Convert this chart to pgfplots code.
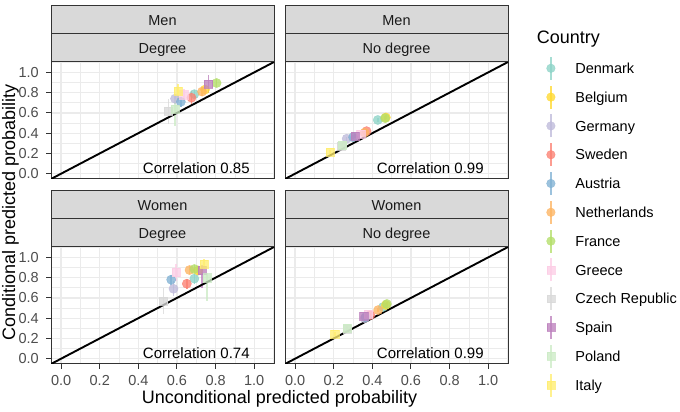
\documentclass[border=0pt]{standalone}
\usepackage{pgfplots}
\pgfplotsset{compat=1.18}
\usepackage{fontspec}
\setmainfont{Liberation Sans}
\definecolor{cDen}{HTML}{8DD3C7}
\definecolor{cBel}{HTML}{FFD92F}
\definecolor{cGer}{HTML}{BEBADA}
\definecolor{cSwe}{HTML}{FB8072}
\definecolor{cAut}{HTML}{80B1D3}
\definecolor{cNet}{HTML}{FDB462}
\definecolor{cFra}{HTML}{B3DE69}
\definecolor{cGre}{HTML}{FCCDE5}
\definecolor{cCze}{HTML}{D9D9D9}
\definecolor{cSpa}{HTML}{BC80BD}
\definecolor{cPol}{HTML}{CCEBC5}
\definecolor{cIta}{HTML}{FFED6F}
\definecolor{gridc}{HTML}{EBEBEB}
\definecolor{borderc}{HTML}{333333}
\definecolor{stripc}{HTML}{D9D9D9}
\definecolor{tickc}{HTML}{4D4D4D}
\definecolor{stript}{HTML}{1A1A1A}
\newcommand{\fsTick}{\fontsize{14.5}{16}\selectfont}
\newcommand{\fsTitle}{\fontsize{18}{20}\selectfont}
\pgfplotsset{
  cc/.style={only marks, mark=*, mark size=4.6pt, color=#1,
    mark options={draw=none, fill=#1, opacity=0.78},
    legend image code/.code={\draw[line width=1.6pt, #1, opacity=0.78] (0pt,-11.5pt) -- (0pt,11.5pt);
      \fill[#1, opacity=0.78] (0pt,0pt) circle (4.3pt); \path (24.3pt,0pt);},
    error bars/.cd, y dir=both, y explicit, error mark=none,
    error bar style={line width=1.6pt, color=#1, opacity=0.78}},
  cs/.style={only marks, mark=square*, mark size=4.1pt, color=#1,
    mark options={draw=none, fill=#1, opacity=0.78},
    legend image code/.code={\draw[line width=1.6pt, #1, opacity=0.78] (0pt,-11.5pt) -- (0pt,11.5pt);
      \fill[#1, opacity=0.78] (-3.9pt,-3.9pt) rectangle (3.9pt,3.9pt); \path (24.3pt,0pt);},
    error bars/.cd, y dir=both, y explicit, error mark=none,
    error bar style={line width=1.6pt, color=#1, opacity=0.78}},
  panel/.style={
    scale only axis, width=223pt, height=117pt, anchor=south west,
    xmin=-0.0525, xmax=1.1025, ymin=-0.0525, ymax=1.1025,
    xtick={0,0.2,0.4,0.6,0.8,1}, ytick={0,0.2,0.4,0.6,0.8,1},
    minor xtick={0.1,0.3,0.5,0.7,0.9,1.1}, minor ytick={0.1,0.3,0.5,0.7,0.9,1.1},
    xmajorgrids, ymajorgrids, xminorgrids, yminorgrids,
    major grid style={draw=gridc, line width=1.3pt},
    minor grid style={draw=gridc, line width=0.65pt},
    axis line style={draw=borderc, line width=1pt},
    tick align=outside, tick pos=left,
    major tick length=4.6pt, minor tick length=0pt,
    major tick style={draw=borderc, line width=1pt},
    ticklabel style={font=\fsTick, text=tickc},
    xticklabel style={inner sep=0pt, yshift=-7pt},
    yticklabel style={inner sep=0pt, xshift=-7.5pt},
    /pgf/number format/.cd, fixed, fixed zerofill, precision=1, assume math mode=true, /pgfplots/.cd,
    clip=true,
  },
  notopx/.style={xticklabel=\empty, every major x tick/.append style={draw=none}},
  norighty/.style={yticklabel=\empty, every major y tick/.append style={draw=none}},
}
\newcommand{\cpc}[6]{\addplot[cc=#1] coordinates {(#2,#3) += (0,#4) -= (0,#5)};}
\newcommand{\cps}[6]{\addplot[cs=#1] coordinates {(#2,#3) += (0,#4) -= (0,#5)};}
\newcommand{\diag}{\addplot[black, line width=1.9pt, no marks] coordinates {(-0.2,-0.2) (1.3,1.3)};}
\begin{document}
\begin{tikzpicture}
\useasboundingbox (0,0) rectangle (680pt,412pt);
% Top-left: Men, Degree
\begin{axis}[panel, notopx, at={(51pt,233pt)}]
\cpc{cDen}{0.69}{0.785}{0.04}{0.04}{}
\cpc{cBel}{0.745}{0.83}{0.04}{0.04}{}
\cpc{cGer}{0.59}{0.74}{0.05}{0.05}{}
\cpc{cSwe}{0.675}{0.75}{0.07}{0.07}{}
\cpc{cAut}{0.62}{0.71}{0.05}{0.05}{}
\cpc{cNet}{0.73}{0.81}{0.04}{0.04}{}
\cpc{cFra}{0.805}{0.895}{0.035}{0.035}{}
\cps{cGre}{0.635}{0.78}{0.06}{0.06}{}
\cps{cCze}{0.556}{0.615}{0.12}{0.12}{}
\cps{cSpa}{0.763}{0.885}{0.09}{0.09}{}
\cps{cPol}{0.59}{0.635}{0.10}{0.16}{}
\cps{cIta}{0.605}{0.815}{0.07}{0.07}{}
\diag
\node[font=\fontsize{15}{17}\selectfont] at (axis cs:0.7,0.05) {Correlation 0.85};
\end{axis}
% Top-right: Men, No degree
\begin{axis}[panel, notopx, norighty, at={(285pt,233pt)}]
\cpc{cDen}{0.428}{0.53}{0.02}{0.02}{}
\cpc{cBel}{0.47}{0.555}{0.02}{0.02}{}
\cpc{cGer}{0.267}{0.345}{0.02}{0.02}{}
\cpc{cSwe}{0.37}{0.42}{0.02}{0.02}{}
\cpc{cAut}{0.30}{0.36}{0.02}{0.02}{}
\cpc{cNet}{0.36}{0.405}{0.02}{0.02}{}
\cpc{cFra}{0.466}{0.548}{0.02}{0.02}{}
\cps{cGre}{0.34}{0.39}{0.02}{0.02}{}
\cps{cCze}{0.24}{0.27}{0.02}{0.02}{}
\cps{cSpa}{0.31}{0.37}{0.02}{0.02}{}
\cps{cPol}{0.245}{0.28}{0.02}{0.02}{}
\cps{cIta}{0.18}{0.215}{0.02}{0.02}{}
\diag
\node[font=\fontsize{15}{17}\selectfont] at (axis cs:0.7,0.05) {Correlation 0.99};
\end{axis}
% Bottom-left: Women, Degree
\begin{axis}[panel, at={(51pt,48pt)}]
\cpc{cDen}{0.69}{0.79}{0.05}{0.05}{}
\cpc{cBel}{0.71}{0.87}{0.04}{0.04}{}
\cpc{cGer}{0.582}{0.69}{0.075}{0.075}{}
\cpc{cSwe}{0.651}{0.74}{0.05}{0.05}{}
\cpc{cAut}{0.57}{0.78}{0.05}{0.05}{}
\cpc{cNet}{0.665}{0.875}{0.04}{0.04}{}
\cpc{cFra}{0.69}{0.885}{0.04}{0.04}{}
\cps{cGre}{0.596}{0.85}{0.08}{0.08}{}
\cps{cCze}{0.53}{0.57}{0.13}{0.13}{}
\cps{cSpa}{0.729}{0.87}{0.05}{0.17}{}
\cps{cPol}{0.755}{0.80}{0.05}{0.235}{}
\cps{cIta}{0.741}{0.935}{0.05}{0.05}{}
\diag
\node[font=\fontsize{15}{17}\selectfont] at (axis cs:0.7,0.05) {Correlation 0.74};
\end{axis}
% Bottom-right: Women, No degree (+ legend)
\begin{axis}[panel, norighty, at={(285pt,48pt)},
  legend cell align=left,
  legend entries={Denmark,Belgium,Germany,Sweden,Austria,Netherlands,France,Greece,Czech Republic,Spain,Poland,Italy},
  legend style={at={(axis description cs:1.1722,2.6504)}, anchor=north west, draw=none, fill=none,
    inner sep=0pt, outer sep=0pt, row sep=0pt, font=\fsTick,
    nodes={inner sep=0pt, text height=13.4pt, text depth=3pt, minimum height=28.8pt, text=black}}]
\cpc{cDen}{0.455}{0.51}{0.02}{0.02}{}
\cpc{cBel}{0.47}{0.53}{0.02}{0.02}{}
\cpc{cGer}{0.36}{0.40}{0.02}{0.02}{}
\cpc{cSwe}{0.39}{0.43}{0.02}{0.02}{}
\cpc{cAut}{0.365}{0.41}{0.02}{0.02}{}
\cpc{cNet}{0.43}{0.48}{0.02}{0.02}{}
\cpc{cFra}{0.475}{0.54}{0.02}{0.02}{}
\cps{cGre}{0.38}{0.44}{0.02}{0.02}{}
\cps{cCze}{0.27}{0.29}{0.02}{0.02}{}
\cps{cSpa}{0.355}{0.42}{0.02}{0.02}{}
\cps{cPol}{0.27}{0.30}{0.02}{0.02}{}
\cps{cIta}{0.205}{0.245}{0.02}{0.02}{}
\diag
\node[font=\fontsize{15}{17}\selectfont] at (axis cs:0.7,0.05) {Correlation 0.99};
\end{axis}
% strips
\begin{scope}[line width=1pt]
\foreach \xa/\xb/\lab in {51/274/Degree, 285/508/No degree}{
  \draw[fill=stripc, draw=borderc] (\xa pt,378pt) rectangle (\xb pt,406pt);
  \draw[fill=stripc, draw=borderc] (\xa pt,350pt) rectangle (\xb pt,378pt);
  \draw[fill=stripc, draw=borderc] (\xa pt,193pt) rectangle (\xb pt,221pt);
  \draw[fill=stripc, draw=borderc] (\xa pt,165pt) rectangle (\xb pt,193pt);
  \pgfmathsetmacro{\xm}{(\xa+\xb)/2}
  \node[font=\fsTick, text=stript, anchor=base, inner sep=0pt] at (\xm pt,358.8pt) {\lab};
  \node[font=\fsTick, text=stript, anchor=base, inner sep=0pt] at (\xm pt,173.8pt) {\lab};
}
\foreach \xa/\xb in {51/274, 285/508}{
  \pgfmathsetmacro{\xm}{(\xa+\xb)/2}
  \node[font=\fsTick, text=stript, anchor=base, inner sep=0pt] at (\xm pt,386.8pt) {Men};
  \node[font=\fsTick, text=stript, anchor=base, inner sep=0pt] at (\xm pt,201.8pt) {Women};
}
\end{scope}
% axis titles
\node[font=\fsTitle, anchor=base, inner sep=0pt] at (279.5pt,8.7pt) {Unconditional predicted probability};
\node[font=\fsTitle, anchor=base, inner sep=0pt, rotate=90] at (15pt,199.5pt) {Conditional predicted probability};
\node[font=\fsTitle, anchor=base west, inner sep=0pt] at (536.7pt,368.8pt) {Country};
\end{tikzpicture}
\end{document}
